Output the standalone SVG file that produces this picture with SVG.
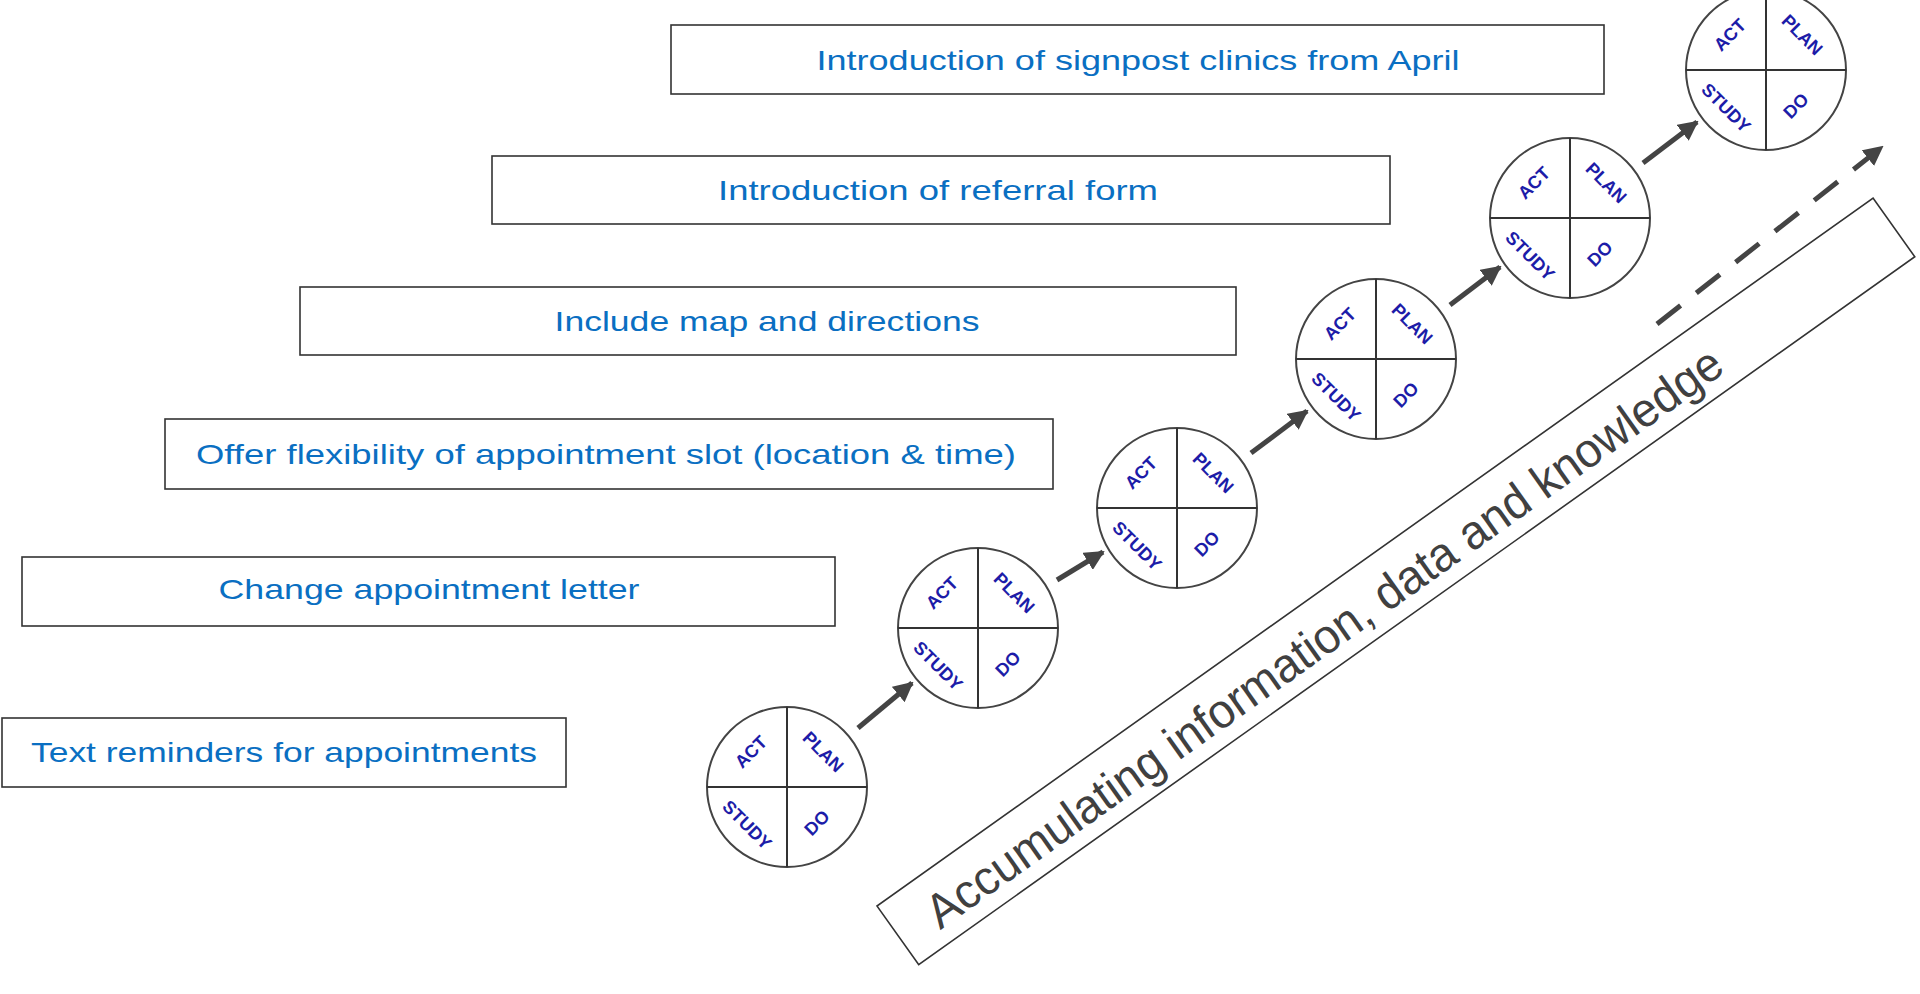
<svg xmlns="http://www.w3.org/2000/svg" width="1920" height="994" viewBox="0 0 1920 994">
<style>
.box{fill:#fff;stroke:#333;stroke-width:1.6}
.bt{font-family:"Liberation Sans",Arial,sans-serif;font-size:28px;fill:#0a6fc2;text-anchor:middle;dominant-baseline:central}
.cl{font-family:"Liberation Sans",Arial,sans-serif;font-size:18px;font-weight:bold;fill:#1c1ca8;text-anchor:middle;dominant-baseline:central}
.ci{fill:#fff;stroke:#444;stroke-width:2}
.ln{stroke:#333;stroke-width:2}
.ar{stroke:#444;stroke-width:5;fill:none;marker-end:url(#ah)}
</style>
<defs>
<marker id="ah" viewBox="0 0 4 4" refX="3.6" refY="2" markerWidth="4" markerHeight="4" orient="auto" markerUnits="strokeWidth"><path d="M0,0L4,2L0,4z" fill="#444"/></marker>
<g id="pdsa">
<circle class="ci" r="80"/>
<line class="ln" x1="-80" y1="0" x2="80" y2="0"/>
<line class="ln" x1="0" y1="-80" x2="0" y2="80"/>
<text class="cl" transform="translate(-36,-35) rotate(-45)">ACT</text>
<text class="cl" transform="translate(36,-35) rotate(45)">PLAN</text>
<text class="cl" transform="translate(-40,38) rotate(45)">STUDY</text>
<text class="cl" transform="translate(30,36) rotate(-45)">DO</text>
</g>
</defs>
<rect width="1920" height="994" fill="#fff"/>
<g id="box1"><rect class="box" x="2" y="718" width="564" height="69"/><text class="bt" x="284" y="752" textLength="506" lengthAdjust="spacingAndGlyphs">Text reminders  for appointments</text></g>
<g id="box2"><rect class="box" x="22" y="557" width="813" height="69"/><text class="bt" x="429" y="589" textLength="421" lengthAdjust="spacingAndGlyphs">Change appointment  letter</text></g>
<g id="box3"><rect class="box" x="165" y="419" width="888" height="70"/><text class="bt" x="606" y="454" textLength="820" lengthAdjust="spacingAndGlyphs">Offer flexibility of appointment  slot (location &amp; time)</text></g>
<g id="box4"><rect class="box" x="300" y="287" width="936" height="68"/><text class="bt" x="767" y="321" textLength="425" lengthAdjust="spacingAndGlyphs">Include map  and directions</text></g>
<g id="box5"><rect class="box" x="492" y="156" width="898" height="68"/><text class="bt" x="938" y="190" textLength="440" lengthAdjust="spacingAndGlyphs">Introduction  of referral form</text></g>
<g id="box6"><rect class="box" x="671" y="25" width="933" height="69"/><text class="bt" x="1138" y="60" textLength="643" lengthAdjust="spacingAndGlyphs">Introduction  of signpost clinics from April</text></g>
<g id="c1"><use href="#pdsa" x="787" y="787"/></g>
<g id="c2"><use href="#pdsa" x="978" y="628"/></g>
<g id="c3"><use href="#pdsa" x="1177" y="508"/></g>
<g id="c4"><use href="#pdsa" x="1376" y="359"/></g>
<g id="c5"><use href="#pdsa" x="1570" y="218"/></g>
<g id="c6"><use href="#pdsa" x="1766" y="70"/></g>
<g id="banner" transform="translate(877,906) rotate(-35.4)">
<rect x="0" y="0" width="1222" height="72" fill="#fff" stroke="#333" stroke-width="1.6"/>
<text x="520" y="40" font-family="'Liberation Sans',Arial,sans-serif" font-size="48" fill="#404040" text-anchor="middle" dominant-baseline="central" textLength="965" lengthAdjust="spacingAndGlyphs">Accumulating information, data and knowledge</text>
</g>
<g id="connectors">
<line class="ar" x1="858" y1="728" x2="912" y2="683"/>
<line class="ar" x1="1057" y1="580" x2="1103" y2="552"/>
<line class="ar" x1="1251" y1="453" x2="1307" y2="411"/>
<line class="ar" x1="1450" y1="305" x2="1500" y2="267"/>
<line class="ar" x1="1643" y1="163" x2="1697" y2="122"/>
<line class="ar" x1="1657" y1="324" x2="1882" y2="147" stroke-dasharray="30,20"/>
</g>
</svg>
